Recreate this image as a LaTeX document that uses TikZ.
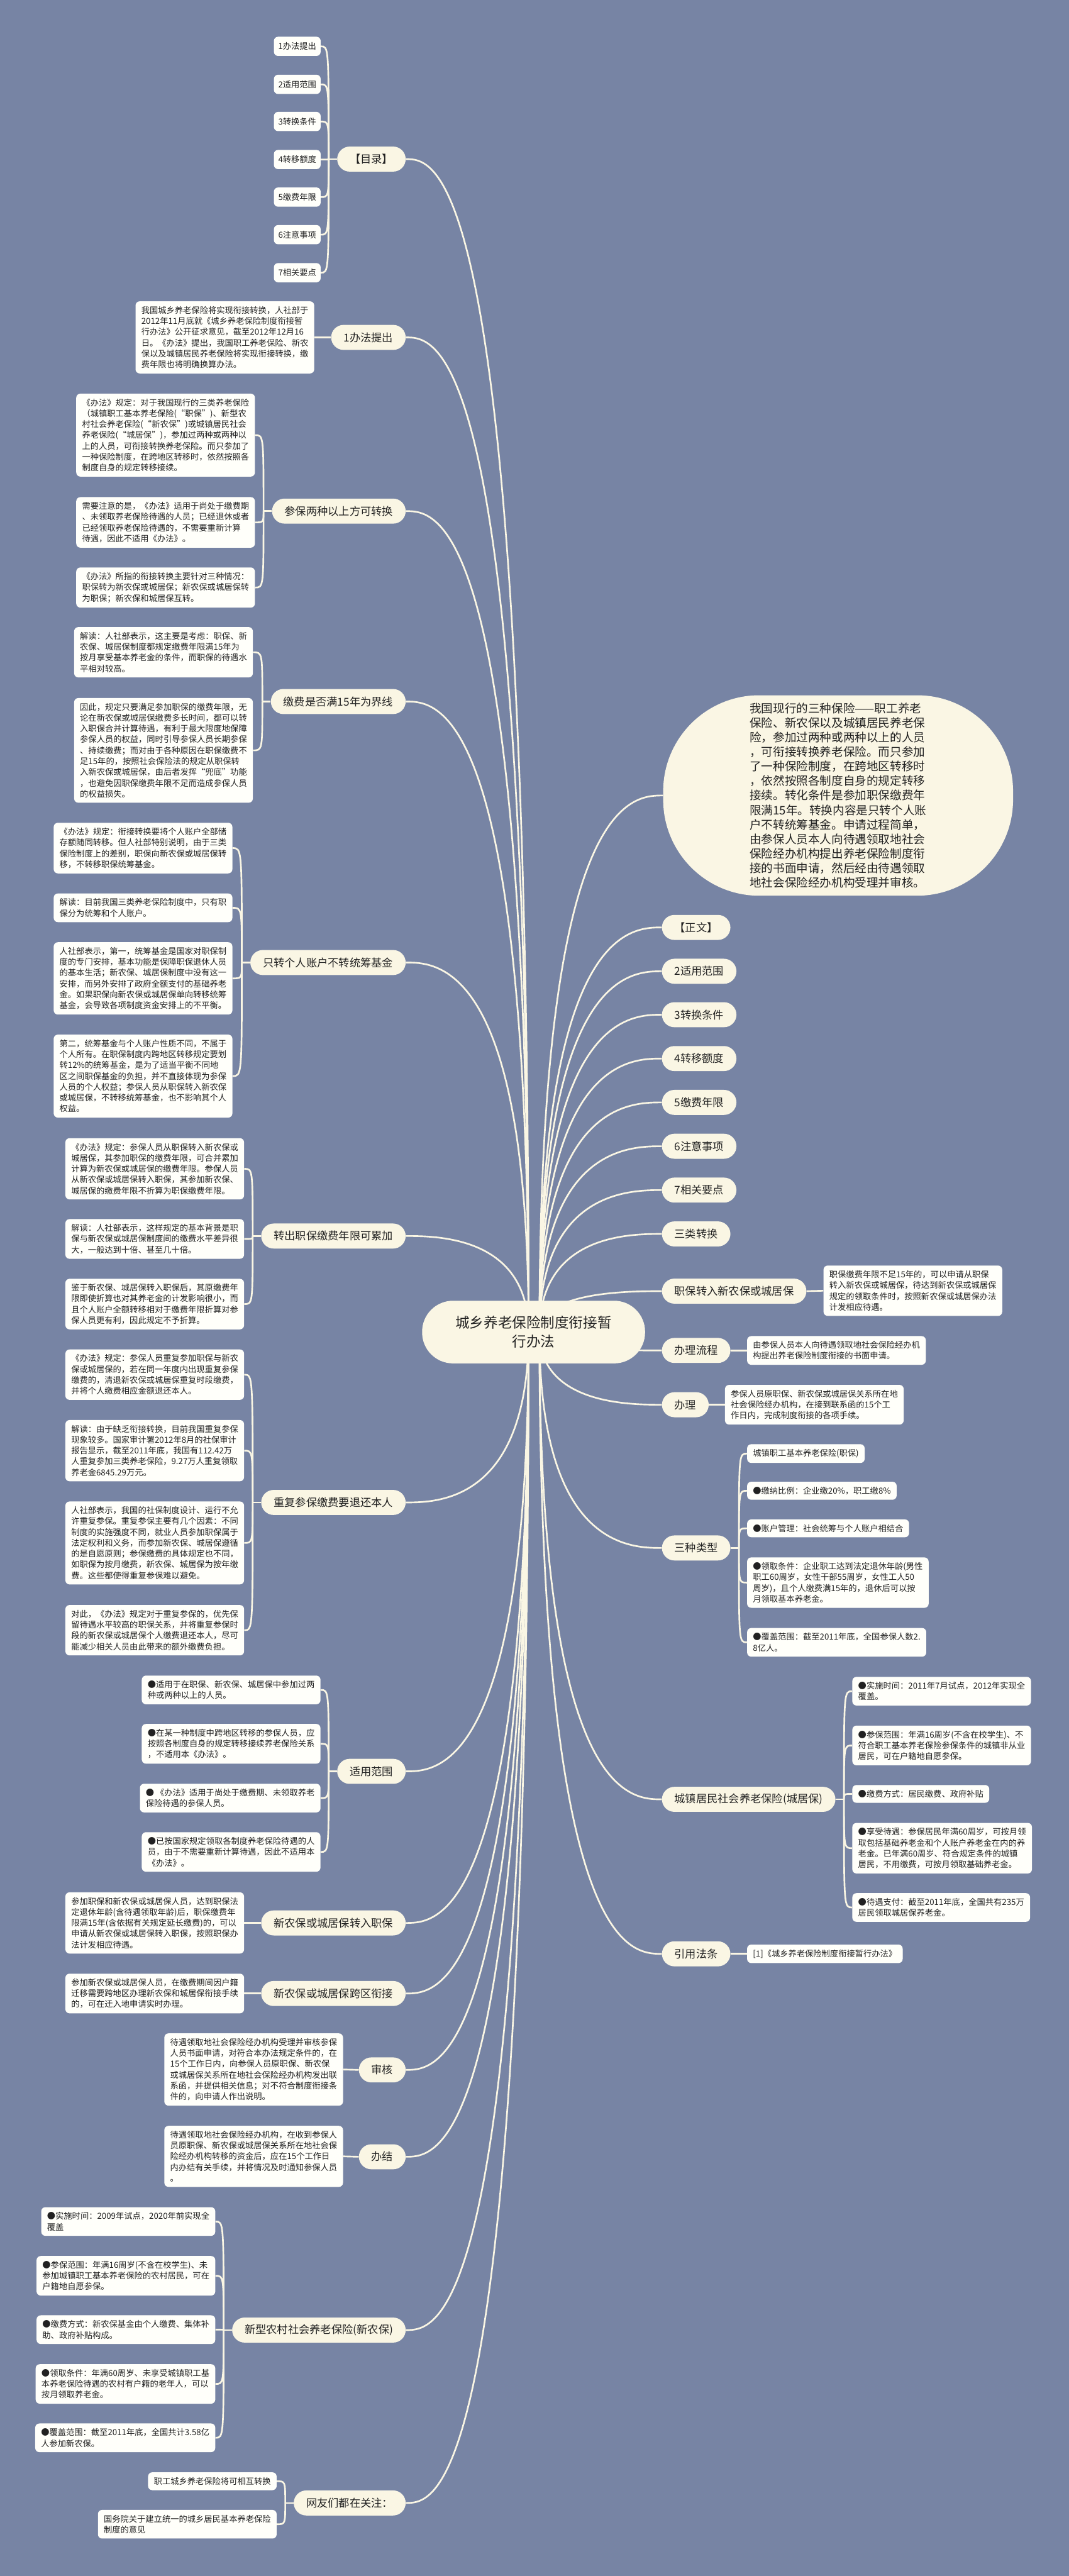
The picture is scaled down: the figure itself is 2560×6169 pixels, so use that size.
\documentclass[tikz,border=0pt]{standalone}
\usepackage{fontspec}
\setmainfont{Noto Sans CJK SC}
\usetikzlibrary{backgrounds}

\definecolor{bgblue}{RGB}{119,132,164}
\definecolor{cream}{RGB}{250,246,228}
\definecolor{paper}{RGB}{255,255,250}
\definecolor{ink}{RGB}{33,33,33}

\begin{document}
\begin{tikzpicture}[x=0.5pt,y=-0.5pt,
    root/.style={rounded corners=37pt,fill=cream,text=ink,align=center,inner xsep=40pt,minimum height=75pt,font=\fontsize{17}{23}\selectfont},
    summary/.style={rounded corners=115pt,fill=cream,text=ink,align=left,minimum width=419pt,minimum height=240pt,font=\fontsize{14}{17.4}\selectfont},
    branch/.style={rounded corners=15pt,fill=cream,text=ink,inner xsep=15pt,minimum height=30pt,font=\fontsize{13}{16}\selectfont},
    leaf/.style={rounded corners=5pt,fill=paper,text=ink,align=left,inner xsep=7pt,inner ysep=6pt,font=\fontsize{10}{13}\selectfont},
    toc/.style={rounded corners=5pt,fill=paper,text=ink,minimum width=56pt,minimum height=23pt,font=\fontsize{10}{12}\selectfont},
    link/.style={draw=cream,line width=2pt}]
\useasboundingbox (0,0) rectangle (2560,6169);

% centre
\node[root] (root) at (1278,3190) {城乡养老保险制度衔接暂\\行办法};

% left branches
\node[branch,anchor=east] (ml) at (972,381) {【目录】};
\node[branch,anchor=east] (tc) at (972,808) {1办法提出};
\node[branch,anchor=east] (lz) at (972,1224) {参保两种以上方可转换};
\node[branch,anchor=east] (jf) at (972,1680) {缴费是否满15年为界线};
\node[branch,anchor=east] (zg) at (972,2305) {只转个人账户不转统筹基金};
\node[branch,anchor=east] (lj) at (972,2960) {转出职保缴费年限可累加};
\node[branch,anchor=east] (cf) at (972,3598) {重复参保缴费要退还本人};
\node[branch,anchor=east] (fw) at (972,4242) {适用范围};
\node[branch,anchor=east] (zr) at (972,4605) {新农保或城居保转入职保};
\node[branch,anchor=east] (kq) at (972,4774) {新农保或城居保跨区衔接};
\node[branch,anchor=east] (sh) at (972,4957) {审核};
\node[branch,anchor=east] (bj) at (972,5165) {办结};
\node[branch,anchor=east] (xnb) at (972,5580) {新型农村社会养老保险(新农保)};
\node[branch,anchor=east] (wy) at (972,5994) {网友们都在关注：};

% contents list
\foreach \lbl/\y [count=\i] in {1办法提出/111,2适用范围/202,3转换条件/291,4转移额度/382,5缴费年限/472,6注意事项/562,7相关要点/653}
  \node[toc] (ml\i) at (712,\y) {\lbl};

% left leaves
\node[leaf,anchor=east] (tc1) at (753,808) {我国城乡养老保险将实现衔接转换，人社部于\\2012年11月底就《城乡养老保险制度衔接暂\\行办法》公开征求意见，截至2012年12月16\\日。《办法》提出，我国职工养老保险、新农\\保以及城镇居民养老保险将实现衔接转换，缴\\费年限也将明确换算办法。};

\node[leaf,anchor=east] (lz1) at (611,1042) {《办法》规定：对于我国现行的三类养老保险\\（城镇职工基本养老保险(“职保”)、新型农\\村社会养老保险(“新农保”)或城镇居民社会\\养老保险(“城居保”)，参加过两种或两种以\\上的人员，可衔接转换养老保险。而只参加了\\一种保险制度，在跨地区转移时，依然按照各\\制度自身的规定转移接续。};
\node[leaf,anchor=east] (lz2) at (611,1251) {需要注意的是，《办法》适用于尚处于缴费期\\、未领取养老保险待遇的人员；已经退休或者\\已经领取养老保险待遇的，不需要重新计算\\待遇，因此不适用《办法》。};
\node[leaf,anchor=east] (lz3) at (611,1407) {《办法》所指的衔接转换主要针对三种情况：\\职保转为新农保或城居保；新农保或城居保转\\为职保；新农保和城居保互转。};

\node[leaf,anchor=east] (jf1) at (606,1562) {解读：人社部表示，这主要是考虑：职保、新\\农保、城居保制度都规定缴费年限满15年为\\按月享受基本养老金的条件，而职保的待遇水\\平相对较高。};
\node[leaf,anchor=east] (jf2) at (606,1797) {因此，规定只要满足参加职保的缴费年限，无\\论在新农保或城居保缴费多长时间，都可以转\\入职保合并计算待遇，有利于最大限度地保障\\参保人员的权益，同时引导参保人员长期参保\\、持续缴费；而对由于各种原因在职保缴费不\\足15年的，按照社会保险法的规定从职保转\\入新农保或城居保，由后者发挥“兜底”功能\\，也避免因职保缴费年限不足而造成参保人员\\的权益损失。};

\node[leaf,anchor=east] (zg1) at (557,2031) {《办法》规定：衔接转换要将个人账户全部储\\存额随同转移。但人社部特别说明，由于三类\\保险制度上的差别，职保向新农保或城居保转\\移，不转移职保统筹基金。};
\node[leaf,anchor=east] (zg2) at (557,2174) {解读：目前我国三类养老保险制度中，只有职\\保分为统筹和个人账户。};
\node[leaf,anchor=east] (zg3) at (557,2343) {人社部表示，第一，统筹基金是国家对职保制\\度的专门安排，基本功能是保障职保退休人员\\的基本生活；新农保、城居保制度中没有这一\\安排，而另外安排了政府全额支付的基础养老\\金。如果职保向新农保或城居保单向转移统筹\\基金，会导致各项制度资金安排上的不平衡。};
\node[leaf,anchor=east] (zg4) at (557,2577) {第二，统筹基金与个人账户性质不同，不属于\\个人所有。在职保制度内跨地区转移规定要划\\转12\%的统筹基金，是为了适当平衡不同地\\区之间职保基金的负担，并不直接体现为参保\\人员的个人权益；参保人员从职保转入新农保\\或城居保，不转移统筹基金，也不影响其个人\\权益。};

\node[leaf,anchor=east] (lj1) at (585,2799) {《办法》规定：参保人员从职保转入新农保或\\城居保，其参加职保的缴费年限，可合并累加\\计算为新农保或城居保的缴费年限。参保人员\\从新农保或城居保转入职保，其参加新农保、\\城居保的缴费年限不折算为职保缴费年限。};
\node[leaf,anchor=east] (lj2) at (585,2967) {解读：人社部表示，这样规定的基本背景是职\\保与新农保或城居保制度间的缴费水平差异很\\大，一般达到十倍、甚至几十倍。};
\node[leaf,anchor=east] (lj3) at (585,3123) {鉴于新农保、城居保转入职保后，其原缴费年\\限即使折算也对其养老金的计发影响很小，而\\且个人账户全额转移相对于缴费年限折算对参\\保人员更有利，因此规定不予折算。};

\node[leaf,anchor=east] (cf1) at (585,3292) {《办法》规定：参保人员重复参加职保与新农\\保或城居保的，若在同一年度内出现重复参保\\缴费的，清退新农保或城居保重复时段缴费，\\并将个人缴费相应金额退还本人。};
\node[leaf,anchor=east] (cf2) at (585,3474) {解读：由于缺乏衔接转换，目前我国重复参保\\现象较多。国家审计署2012年8月的社保审计\\报告显示，截至2011年底，我国有112.42万\\人重复参加三类养老保险，9.27万人重复领取\\养老金6845.29万元。};
\node[leaf,anchor=east] (cf3) at (585,3695) {人社部表示，我国的社保制度设计、运行不允\\许重复参保。重复参保主要有几个因素：不同\\制度的实施强度不同，就业人员参加职保属于\\法定权利和义务，而参加新农保、城居保遵循\\的是自愿原则；参保缴费的具体规定也不同，\\如职保为按月缴费，新农保、城居保为按年缴\\费。这些都使得重复参保难以避免。};
\node[leaf,anchor=east] (cf4) at (585,3904) {对此，《办法》规定对于重复参保的，优先保\\留待遇水平较高的职保关系，并将重复参保时\\段的新农保或城居保个人缴费退还本人，尽可\\能减少相关人员由此带来的额外缴费负担。};

\node[leaf,anchor=east] (fw1) at (768,4047) {●适用于在职保、新农保、城居保中参加过两\\种或两种以上的人员。};
\node[leaf,anchor=east] (fw2) at (768,4176) {●在某一种制度中跨地区转移的参保人员，应\\按照各制度自身的规定转移接续养老保险关系\\，不适用本《办法》。};
\node[leaf,anchor=east] (fw3) at (768,4306) {● 《办法》适用于尚处于缴费期、未领取养老\\保险待遇的参保人员。};
\node[leaf,anchor=east] (fw4) at (768,4435) {●已按国家规定领取各制度养老保险待遇的人\\员，由于不需要重新计算待遇，因此不适用本\\《办法》。};

\node[leaf,anchor=east] (zr1) at (585,4605) {参加职保和新农保或城居保人员，达到职保法\\定退休年龄(含待遇领取年龄)后，职保缴费年\\限满15年(含依据有关规定延长缴费)的，可以\\申请从新农保或城居保转入职保，按照职保办\\法计发相应待遇。};
\node[leaf,anchor=east] (kq1) at (585,4774) {参加新农保或城居保人员，在缴费期间因户籍\\迁移需要跨地区办理新农保和城居保衔接手续\\的，可在迁入地申请实时办理。};
\node[leaf,anchor=east] (sh1) at (822,4956) {待遇领取地社会保险经办机构受理并审核参保\\人员书面申请，对符合本办法规定条件的，在\\15个工作日内，向参保人员原职保、新农保\\或城居保关系所在地社会保险经办机构发出联\\系函，并提供相关信息；对不符合制度衔接条\\件的，向申请人作出说明。};
\node[leaf,anchor=east] (bj1) at (822,5164) {待遇领取地社会保险经办机构，在收到参保人\\员原职保、新农保或城居保关系所在地社会保\\险经办机构转移的资金后，应在15个工作日\\内办结有关手续，并将情况及时通知参保人员\\。};

\node[leaf,anchor=east] (xnb1) at (516,5320) {●实施时间：2009年试点，2020年前实现全\\覆盖};
\node[leaf,anchor=east] (xnb2) at (516,5450) {●参保范围：年满16周岁(不含在校学生)、未\\参加城镇职工基本养老保险的农村居民，可在\\户籍地自愿参保。};
\node[leaf,anchor=east] (xnb3) at (516,5579) {●缴费方式：新农保基金由个人缴费、集体补\\助、政府补贴构成。};
\node[leaf,anchor=east] (xnb4) at (516,5709) {●领取条件：年满60周岁、未享受城镇职工基\\本养老保险待遇的农村有户籍的老年人，可以\\按月领取养老金。};
\node[leaf,anchor=east] (xnb5) at (516,5838) {●覆盖范围：截至2011年底，全国共计3.58亿\\人参加新农保。};

\node[leaf,anchor=east] (wy1) at (663,5942) {职工城乡养老保险将可相互转换};
\node[leaf,anchor=east] (wy2) at (663,6045) {国务院关于建立统一的城乡居民基本养老保险\\制度的意见};

% right branches
\node[summary,anchor=west] (zy) at (1588,1905) {我国现行的三种保险——职工养老\\保险、新农保以及城镇居民养老保\\险，参加过两种或两种以上的人员\\，可衔接转换养老保险。而只参加\\了一种保险制度，在跨地区转移时\\，依然按照各制度自身的规定转移\\接续。转化条件是参加职保缴费年\\限满15年。转换内容是只转个人账\\户不转统筹基金。申请过程简单，\\由参保人员本人向待遇领取地社会\\保险经办机构提出养老保险制度衔\\接的书面申请，然后经由待遇领取\\地社会保险经办机构受理并审核。};
\node[branch,anchor=west] (zw) at (1585,2221) {【正文】};
\node[branch,anchor=west] (zw2) at (1585,2326) {2适用范围};
\node[branch,anchor=west] (zw3) at (1585,2430) {3转换条件};
\node[branch,anchor=west] (zw4) at (1585,2535) {4转移额度};
\node[branch,anchor=west] (zw5) at (1585,2640) {5缴费年限};
\node[branch,anchor=west] (zw6) at (1585,2745) {6注意事项};
\node[branch,anchor=west] (zw7) at (1585,2850) {7相关要点};
\node[branch,anchor=west] (slzh) at (1585,2955) {三类转换};
\node[branch,anchor=west] (zbzr) at (1585,3092) {职保转入新农保或城居保};
\node[branch,anchor=west] (lc) at (1585,3234) {办理流程};
\node[branch,anchor=west] (bl) at (1585,3364) {办理};
\node[branch,anchor=west] (lx) at (1585,3707) {三种类型};
\node[branch,anchor=west] (cjb) at (1585,4309) {城镇居民社会养老保险(城居保)};
\node[branch,anchor=west] (yy) at (1585,4679) {引用法条};

% right leaves
\node[leaf,anchor=west] (zbzr1) at (1972,3091) {职保缴费年限不足15年的，可以申请从职保\\转入新农保或城居保，待达到新农保或城居保\\规定的领取条件时，按照新农保或城居保办法\\计发相应待遇。};
\node[leaf,anchor=west] (lc1) at (1789,3234) {由参保人员本人向待遇领取地社会保险经办机\\构提出养老保险制度衔接的书面申请。};
\node[leaf,anchor=west] (bl1) at (1736,3364) {参保人员原职保、新农保或城居保关系所在地\\社会保险经办机构，在接到联系函的15个工\\作日内，完成制度衔接的各项手续。};

\node[leaf,anchor=west] (lx1) at (1789,3481) {城镇职工基本养老保险(职保)};
\node[leaf,anchor=west] (lx2) at (1789,3570) {●缴纳比例：企业缴20\%，职工缴8\%};
\node[leaf,anchor=west] (lx3) at (1789,3660) {●账户管理：社会统筹与个人账户相结合};
\node[leaf,anchor=west] (lx4) at (1789,3790) {●领取条件：企业职工达到法定退休年龄(男性\\职工60周岁，女性干部55周岁，女性工人50\\周岁)，且个人缴费满15年的，退休后可以按\\月领取基本养老金。};
\node[leaf,anchor=west] (lx5) at (1789,3933) {●覆盖范围：截至2011年底，全国参保人数2.\\8亿人。};

\node[leaf,anchor=west] (cjb1) at (2041,4050) {●实施时间：2011年7月试点，2012年实现全\\覆盖。};
\node[leaf,anchor=west] (cjb2) at (2041,4180) {●参保范围：年满16周岁(不含在校学生)、不\\符合职工基本养老保险参保条件的城镇非从业\\居民，可在户籍地自愿参保。};
\node[leaf,anchor=west] (cjb3) at (2041,4296) {●缴费方式：居民缴费、政府补贴};
\node[leaf,anchor=west] (cjb4) at (2041,4426) {●享受待遇：参保居民年满60周岁，可按月领\\取包括基础养老金和个人账户养老金在内的养\\老金。已年满60周岁、符合规定条件的城镇\\居民，不用缴费，可按月领取基础养老金。};
\node[leaf,anchor=west] (cjb5) at (2041,4568) {●待遇支付：截至2011年底，全国共有235万\\居民领取城居保养老金。};

\node[leaf,anchor=west] (yy1) at (1789,4679) {[1]《城乡养老保险制度衔接暂行办法》};

% connectors behind the nodes
\begin{pgfonlayer}{background}
\fill[bgblue] (0,0) rectangle (2560,6169);
\coordinate (rl) at (1266,3190);
\coordinate (rr) at (1292,3190);
\foreach \n in {ml,tc,lz,jf,zg,lj,cf,fw,zr,kq,sh,bj,xnb,wy}
  \draw[link] (rl) .. controls (rl |- \n.east) and ([xshift=37pt]\n.east) .. (\n.east);
\foreach \n in {zy,zw,zw2,zw3,zw4,zw5,zw6,zw7,slzh,zbzr,lc,bl,lx,cjb,yy}
  \draw[link] (rr) .. controls (rr |- \n.west) and ([xshift=-37pt]\n.west) .. (\n.west);
\foreach \b/\m in {ml/7,lz/3,jf/2,zg/4,lj/3,cf/4,fw/4,xnb/5,wy/2} {
  \coordinate (j) at ([xshift=-10pt]\b.west);
  \draw[link] (\b.west) -- (j);
  \foreach \i in {1,...,\m}
    \draw[link] (j) .. controls (j |- \b\i.east) .. (\b\i.east);
}
\foreach \b/\m in {lx/5,cjb/5} {
  \coordinate (j) at ([xshift=10pt]\b.east);
  \draw[link] (\b.east) -- (j);
  \foreach \i in {1,...,\m}
    \draw[link] (j) .. controls (j |- \b\i.west) .. (\b\i.west);
}
\foreach \b in {tc,zr,kq,sh,bj}
  \draw[link] (\b.west) -- (\b1.east);
\foreach \b in {zbzr,lc,bl,yy}
  \draw[link] (\b.east) -- (\b1.west);
\end{pgfonlayer}
\end{tikzpicture}
\end{document}
